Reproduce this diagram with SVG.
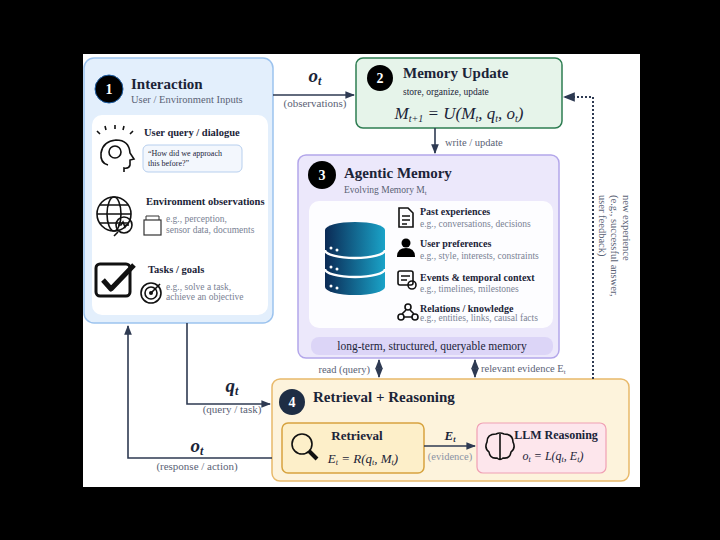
<svg xmlns="http://www.w3.org/2000/svg" width="720" height="540" viewBox="0 0 720 540">
<defs>
<style>
text{font-family:"Liberation Serif","DejaVu Serif",serif;fill:#1b2438}
.t{font-weight:bold;font-size:15px}
.h{font-weight:bold;font-size:10.5px}
.s{font-size:9.5px;fill:#7a8294}
.g{font-size:10.5px;fill:#5a6275}
.n{fill:#fff;font-weight:bold;font-size:14px;text-anchor:middle}
.c{stroke:#2e3a52;stroke-width:1.6;fill:none}
.i{stroke:#111;stroke-width:1.6;fill:none}
</style>
<marker id="a" viewBox="0 0 10 10" refX="9" refY="5" markerWidth="6" markerHeight="6" orient="auto-start-reverse"><path d="M0,1 L10,5 L0,9 Z" fill="#2e3a52"/></marker>
<linearGradient id="db" x1="0" y1="0" x2="1" y2="0"><stop offset="0" stop-color="#0b2a55"/><stop offset="1" stop-color="#1aa3c8"/></linearGradient>
</defs>
<rect width="720" height="540" fill="#000"/>
<rect x="83" y="54" width="557" height="433" fill="#fff"/>

<g id="n1">
<rect x="84" y="58" width="189" height="265" rx="10" fill="#e3effc" stroke="#9cc3ee" stroke-width="1.5"/>
<rect x="92" y="115" width="176" height="200" rx="10" fill="#fff"/>
<circle cx="109" cy="89" r="14" fill="#000" stroke="#1d5fa8" stroke-width="1"/>
<text x="109" y="94" class="n">1</text>
<text x="131" y="89" class="t">Interaction</text>
<text x="131" y="103" class="g">User / Environment Inputs</text>
<path class="i" d="M108,165 q-8,-2 -7,-12 q2,-12 15,-13 q13,0 14,13 l4,6 l-4,1 l0,5 q-1,4 -6,3 l0,4" />
<circle cx="115" cy="152" r="6" class="i" stroke-width="1.2"/>
<path class="i" d="M100,134 l-3,-3 M106,130 l-1,-4 M115,129 l0,-4 M123,130 l1,-4 M130,134 l3,-3"/>
<text x="144" y="136" class="h">User query / dialogue</text>
<rect x="143" y="145" width="99" height="27" rx="5" fill="#f3f7fd" stroke="#b7cfee"/>
<text x="148" y="156" style="font-size:8px">“How did we approach</text>
<text x="148" y="166" style="font-size:8px">this before?”</text>
<circle cx="114" cy="214" r="17" class="i"/>
<ellipse cx="114" cy="214" rx="7" ry="17" class="i" stroke-width="1.2"/>
<path class="i" stroke-width="1.2" d="M97,214 h34 M100,205 h28 M100,223 h28"/>
<circle cx="124" cy="225" r="8" fill="#fff" class="i"/>
<path class="i" stroke-width="1" d="M118,225 h3 l2,-3 l2,5 l1,-2 h3 M118,232 l-4,4"/>
<rect x="144" y="220" width="17" height="15" fill="#fff" stroke="#333" stroke-width="1.2"/>
<path d="M146,220 v-4 h13 v4" fill="none" stroke="#333"/>
<text x="146" y="205" class="h">Environment observations</text>
<text x="166" y="222" class="s">e.g., perception,</text>
<text x="166" y="233" class="s">sensor data, documents</text>
<rect x="96" y="264" width="34" height="32" rx="4" fill="none" stroke="#111" stroke-width="3"/>
<path d="M103,280 l8,9 l23,-24" fill="none" stroke="#111" stroke-width="5" stroke-linejoin="round"/>
<circle cx="151" cy="293" r="10" class="i"/><circle cx="151" cy="293" r="6" class="i"/><circle cx="151" cy="293" r="2" fill="#111"/>
<path class="i" d="M151,293 l9,-9"/>
<text x="148" y="273" class="h">Tasks / goals</text>
<text x="166" y="290" class="s">e.g., solve a task,</text>
<text x="166" y="300" class="s">achieve an objective</text>
</g>

<g id="n2">
<rect x="356" y="58" width="206" height="70" rx="7" fill="#e6f4ea" stroke="#2e7d52" stroke-width="1.5"/>
<circle cx="380" cy="78" r="13" fill="#000"/>
<text x="380" y="83" class="n">2</text>
<text x="403" y="78" class="t">Memory Update</text>
<text x="403" y="95" style="font-size:9.5px">store, organize, update</text>
<text x="459" y="119" text-anchor="middle" style="font-style:italic;font-size:17px">M<tspan font-size="10" dy="3">t+1</tspan><tspan dy="-3"> = U(M</tspan><tspan font-size="10" dy="3">t</tspan><tspan dy="-3">, q</tspan><tspan font-size="10" dy="3">t</tspan><tspan dy="-3">, o</tspan><tspan font-size="10" dy="3">t</tspan><tspan dy="-3">)</tspan></text>
</g>

<g id="n3">
<rect x="298" y="155" width="261" height="203" rx="8" fill="#ece8fb" stroke="#b3a6ea" stroke-width="1.5"/>
<rect x="309" y="201" width="244" height="127" rx="10" fill="#fff" opacity="0.9"/>
<rect x="311" y="337" width="242" height="18" rx="8" fill="#dcd5f7"/>
<text x="432" y="350" text-anchor="middle" style="font-size:11.5px">long-term, structured, queryable memory</text>
<circle cx="322" cy="175" r="14" fill="#000"/>
<text x="322" y="180" class="n">3</text>
<text x="344" y="178" class="t">Agentic Memory</text>
<text x="344" y="193" class="g" style="font-size:9.5px">Evolving Memory M<tspan font-size="7" dy="2">t</tspan></text>
<path d="M325,230 v57 a30,8 0 0 0 60,0 v-57 z" fill="url(#db)"/>
<ellipse cx="355" cy="230" rx="30" ry="8" fill="url(#db)"/>
<path d="M325,250 a30,8 0 0 0 60,0 M325,269 a30,8 0 0 0 60,0" fill="none" stroke="#fff" stroke-width="2.5"/>
<g fill="#fff"><circle cx="331" cy="248" r="1.5"/><circle cx="337" cy="250" r="1.5"/><circle cx="331" cy="267" r="1.5"/><circle cx="337" cy="269" r="1.5"/><circle cx="331" cy="286" r="1.5"/><circle cx="337" cy="288" r="1.5"/></g>
<path class="i" d="M399,208 h9 l5,5 v14 h-14 z M402,216 h8 M402,220 h8 M402,224 h5"/>
<circle cx="406" cy="243" r="4.5" fill="#000"/><path d="M397,257 q0,-9 9,-9 q9,0 9,9 z" fill="#000"/>
<rect x="398" y="271" width="15" height="14" rx="2" class="i" stroke-width="1.2"/><path class="i" stroke-width="1" d="M401,276 h9 M401,280 h6"/><circle cx="412" cy="285" r="4" fill="#fff" class="i" stroke-width="1"/>
<circle cx="408" cy="307" r="3" class="i" stroke-width="1"/><circle cx="401" cy="317" r="3" class="i" stroke-width="1"/><circle cx="415" cy="317" r="3" class="i" stroke-width="1"/><path class="i" stroke-width="1" d="M404,317 h8 M406,310 l-4,4 M410,310 l4,4"/>
<text x="420" y="215" class="h" style="font-size:10px">Past experiences</text>
<text x="420" y="227" class="s">e.g., conversations, decisions</text>
<text x="420" y="247" class="h" style="font-size:10px">User preferences</text>
<text x="420" y="259" class="s">e.g., style, interests, constraints</text>
<text x="420" y="281" class="h" style="font-size:10px">Events &amp; temporal context</text>
<text x="420" y="292" class="s">e.g., timelines, milestones</text>
<text x="420" y="312" class="h" style="font-size:10px">Relations / knowledge</text>
<text x="420" y="321" class="s">e.g., entities, links, causal facts</text>
</g>

<g id="n4">
<rect x="272" y="379" width="357" height="102" rx="8" fill="#fdf3dc" stroke="#e8b96a" stroke-width="1.5"/>
<circle cx="292" cy="402" r="13" fill="#1e2d44"/>
<text x="292" y="407" class="n">4</text>
<text x="313" y="402" class="t">Retrieval + Reasoning</text>
</g>
<g id="n5">
<rect x="282" y="423" width="142" height="50" rx="6" fill="#fdefc9" stroke="#d7a33f" stroke-width="1.5"/>
<circle cx="302" cy="444" r="10" class="i" stroke-width="2"/>
<path d="M309,451 l8,8" stroke="#111" stroke-width="4"/>
<text x="357" y="440" text-anchor="middle" style="font-weight:bold;font-size:13px">Retrieval</text>
<text x="363" y="463" text-anchor="middle" style="font-style:italic;font-size:13px">E<tspan font-size="8" dy="2">t</tspan><tspan dy="-2"> = R(q</tspan><tspan font-size="8" dy="2">t</tspan><tspan dy="-2">, M</tspan><tspan font-size="8" dy="2">t</tspan><tspan dy="-2">)</tspan></text>
</g>
<g id="n6">
<rect x="477" y="423" width="129" height="50" rx="6" fill="#fde6ec" stroke="#f0a0b4" stroke-width="1.2"/>
<path class="i" stroke-width="1.1" d="M496,434 q-9,0 -9,8 q-3,6 2,10 q1,7 8,6 q3,3 6,0 q7,1 8,-6 q5,-4 2,-10 q0,-8 -9,-8 q-4,-2 -8,0 z M500,434 v25"/>
<text x="556" y="439" text-anchor="middle" style="font-weight:bold;font-size:12px">LLM Reasoning</text>
<text x="553" y="460" text-anchor="middle" style="font-style:italic;font-size:12px">o<tspan font-size="8" dy="2">t</tspan><tspan dy="-2"> = L(q</tspan><tspan font-size="8" dy="2">t</tspan><tspan dy="-2">, E</tspan><tspan font-size="8" dy="2">t</tspan><tspan dy="-2">)</tspan></text>
</g>

<g id="connectors">
<line class="c" x1="273" y1="95" x2="354" y2="95" marker-end="url(#a)"/>
<text x="315" y="82" text-anchor="middle" style="font-weight:bold;font-style:italic;font-size:19px">o<tspan font-size="12" dy="3">t</tspan></text>
<text x="315" y="107" text-anchor="middle" class="g" style="font-size:11px">(observations)</text>
<line class="c" x1="435" y1="128" x2="435" y2="153" marker-end="url(#a)"/>
<text x="445" y="146" class="g">write / update</text>
<line class="c" x1="379" y1="360" x2="379" y2="377" marker-start="url(#a)" marker-end="url(#a)"/>
<text x="370" y="373" text-anchor="end" class="g">read (query)</text>
<line class="c" x1="475" y1="360" x2="475" y2="377" marker-start="url(#a)" marker-end="url(#a)"/>
<text x="481" y="372" class="g">relevant evidence E<tspan font-size="7" dy="2">t</tspan></text>
<polyline class="c" points="187,323 187,404 270,404" marker-end="url(#a)"/>
<text x="232" y="392" text-anchor="middle" style="font-weight:bold;font-style:italic;font-size:19px">q<tspan font-size="12" dy="3">t</tspan></text>
<text x="232" y="413" text-anchor="middle" class="g" style="font-size:11px">(query / task)</text>
<polyline class="c" points="272,458 128,458 128,326" marker-end="url(#a)"/>
<text x="197" y="452" text-anchor="middle" style="font-weight:bold;font-style:italic;font-size:19px">o<tspan font-size="12" dy="3">t</tspan></text>
<text x="197" y="470" text-anchor="middle" class="g" style="font-size:11px">(response / action)</text>
<polyline points="593,379 593,97 564,97" fill="none" stroke="#2e3a52" stroke-width="2" stroke-dasharray="2,2" marker-end="url(#a)"/>
<g transform="translate(623,195) rotate(90)"><text class="g" x="0" y="0">new experience</text><text class="g" x="0" y="12">(e.g., successful answer,</text><text class="g" x="0" y="24">user feedback)</text></g>
<line class="c" x1="424" y1="446" x2="475" y2="446" marker-end="url(#a)"/>
<text x="450" y="440" text-anchor="middle" style="font-weight:bold;font-style:italic;font-size:13px">E<tspan font-size="8" dy="2">t</tspan></text>
<text x="450" y="460" text-anchor="middle" class="g" style="fill:#8a92a4">(evidence)</text>
</g>
</svg>
